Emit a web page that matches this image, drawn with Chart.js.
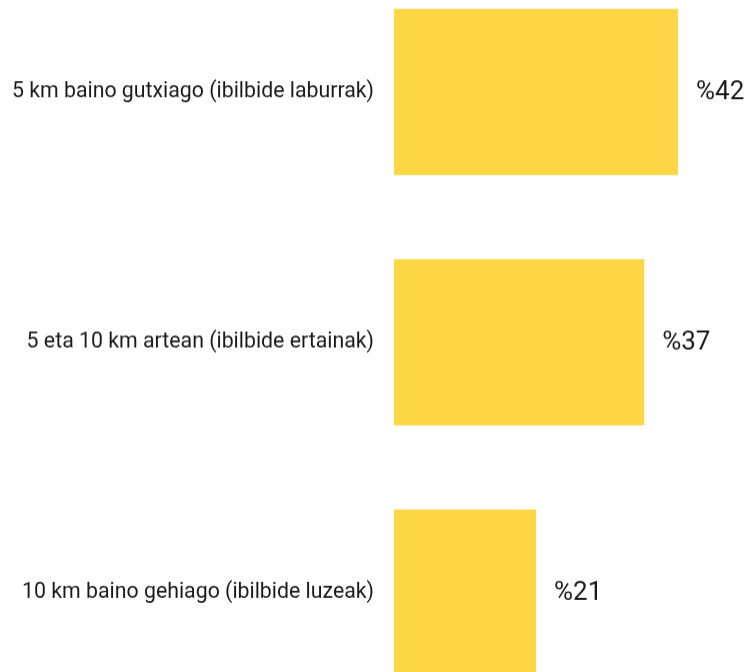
<!DOCTYPE html>
<html>
<head>
<meta charset="utf-8">
<script src="https://cdn.jsdelivr.net/npm/chart.js@4"></script>
<style>
  html, body { margin: 0; padding: 0; background: #fff; overflow: hidden; width: 748px; height: 672px; }
  /* the reference crops the plot: category band 250px, first bar centred at y=92 */
  #wrap { position: absolute; left: 0; top: -65.8px; width: 748px; height: 815.6px; }
</style>
</head>
<body>
<div id="wrap"><canvas id="chart"></canvas></div>
<script>
const categories = [
  "5 km baino gutxiago (ibilbide laburrak)",
  "5 eta 10 km artean (ibilbide ertainak)",
  "10 km baino gehiago (ibilbide luzeak)"
];
const shares = [42, 37, 21];
const barColor = "#FDD645";

// "%42" style labels right of each bar
const valueLabels = {
  id: "valueLabels",
  afterDatasetsDraw(chart) {
    const ctx = chart.ctx;
    const meta = chart.getDatasetMeta(0);
    ctx.save();
    ctx.font = "26px Roboto";
    ctx.fillStyle = "#1a1a1a";
    ctx.textBaseline = "middle";
    ctx.textAlign = "left";
    meta.data.forEach((bar, i) => {
      ctx.fillText("%" + shares[i], bar.x + 18, bar.y + 1);
    });
    ctx.restore();
  }
};

new Chart(document.getElementById("chart").getContext("2d"), {
  type: "bar",
  data: {
    labels: categories,
    datasets: [{
      data: shares,
      backgroundColor: barColor,
      borderWidth: 0,
      barPercentage: 1,
      categoryPercentage: 0.664
    }]
  },
  options: {
    indexAxis: "y",
    responsive: true,
    maintainAspectRatio: false,
    animation: false,
    layout: { padding: { left: 0, right: 70, top: 0, bottom: 0 } },
    scales: {
      x: { display: false, min: 0, max: 42 },
      y: {
        grid: { display: false, drawTicks: false },
        border: { display: false },
        ticks: {
          padding: 20,
          color: "#1a1a1a",
          font: { family: "Roboto", size: 21.3 }
        },
        afterFit(scale) { scale.width = 394; }
      }
    },
    plugins: {
      legend: { display: false },
      tooltip: { enabled: false }
    }
  },
  plugins: [valueLabels]
});
</script>
</body>
</html>
